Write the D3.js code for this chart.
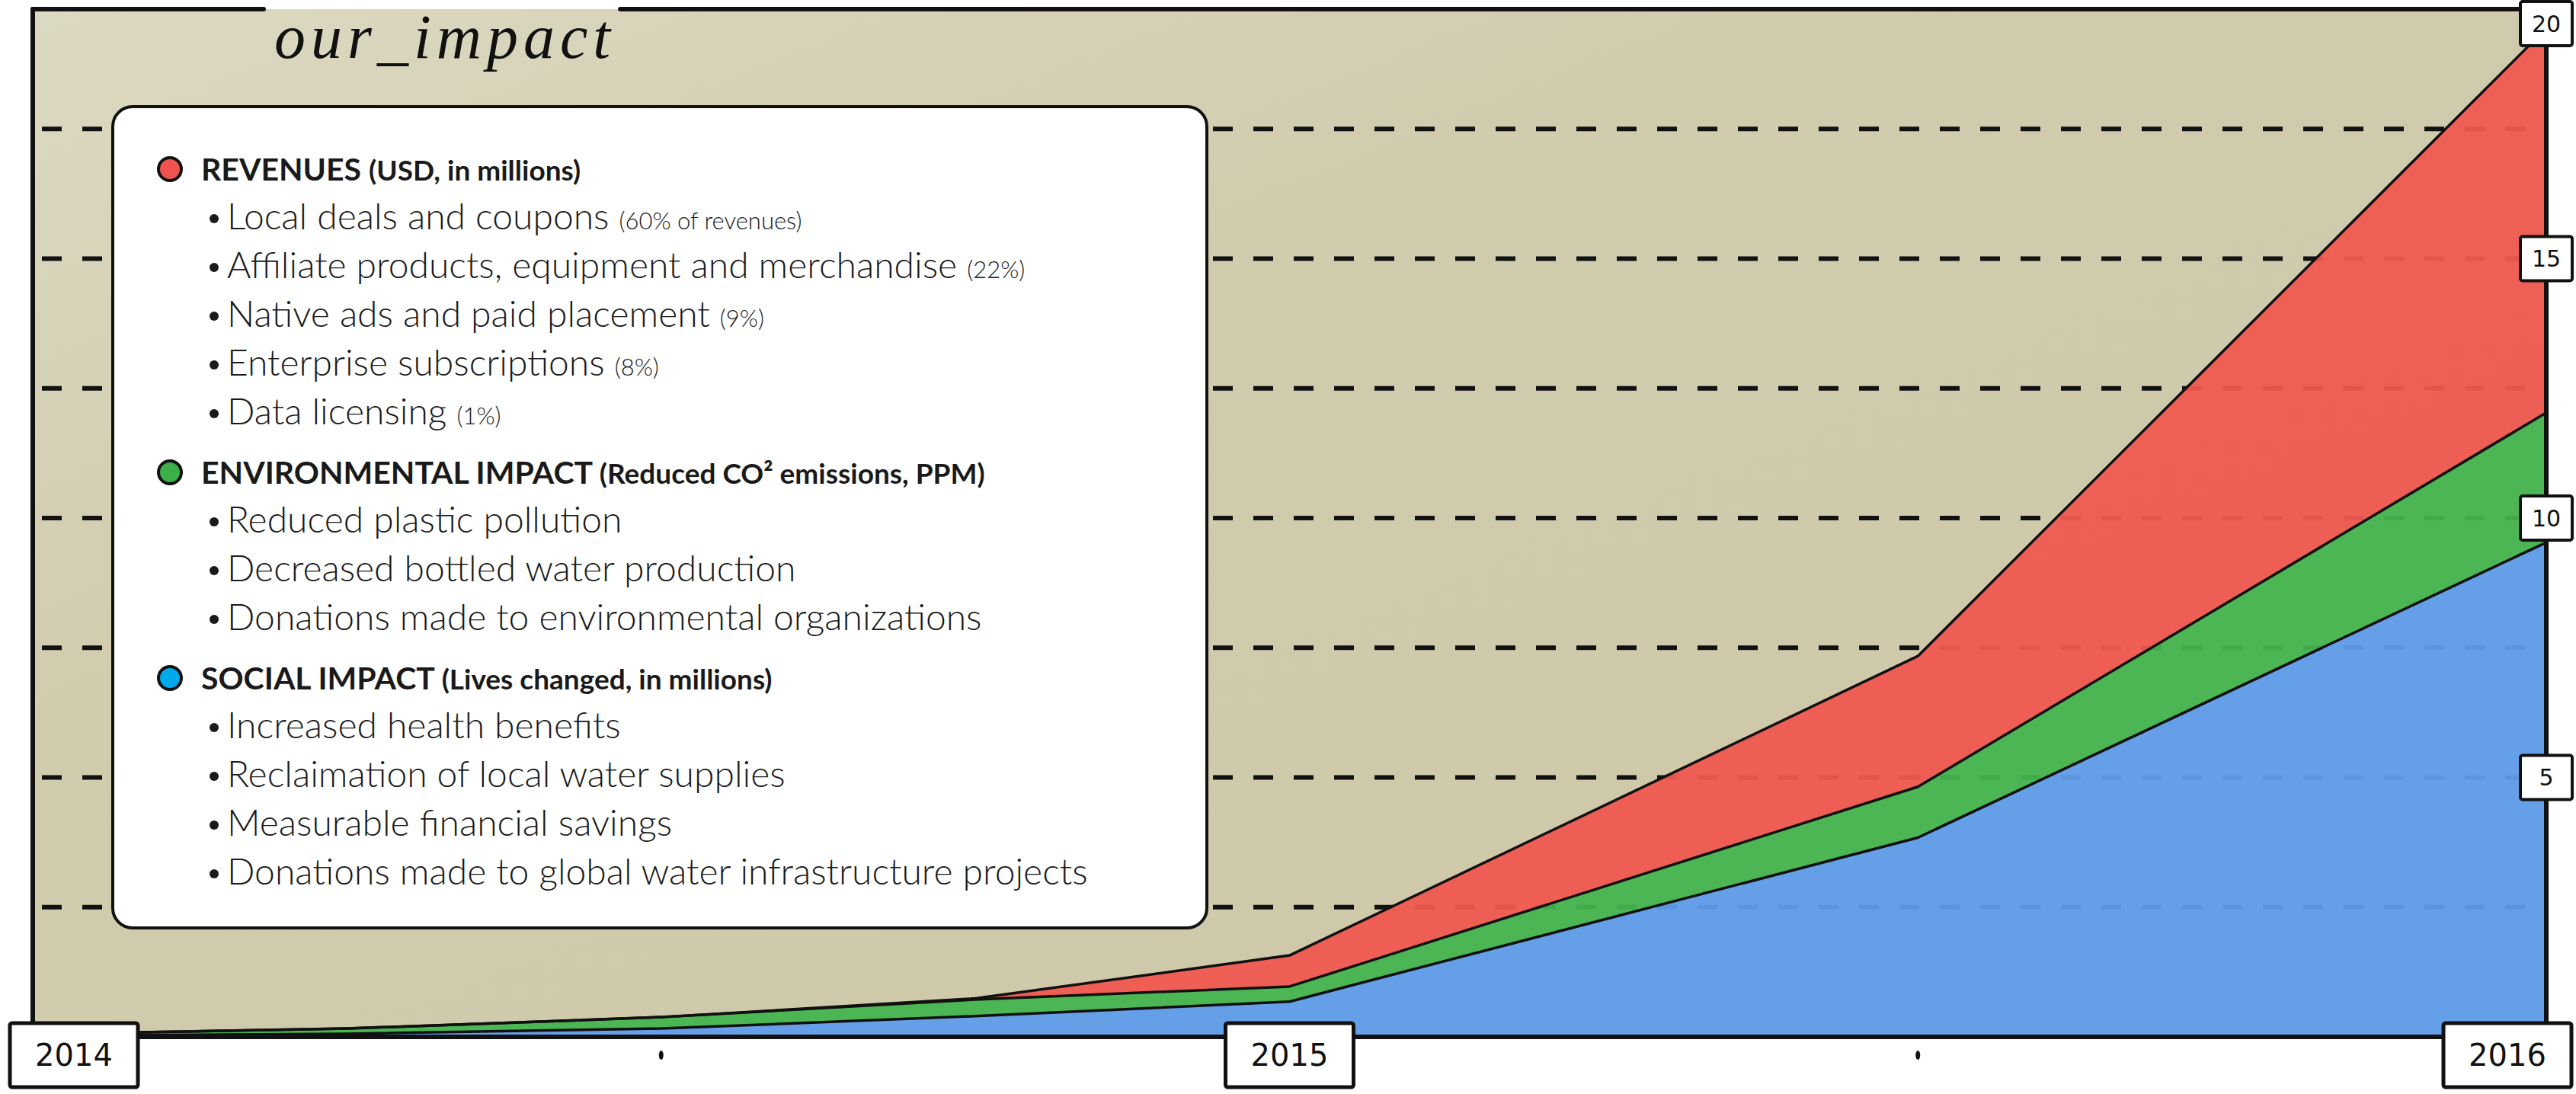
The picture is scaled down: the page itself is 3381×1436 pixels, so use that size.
<!DOCTYPE html>
<html>
<head>
<meta charset="utf-8">
<script src="https://cdn.jsdelivr.net/npm/d3@7"></script>
<style>
  html, body { margin: 0; padding: 0; background: #fff; }
  svg { display: block; }
</style>
</head>
<body>
<div id="chart"></div>
<script>

// chart data
var years = [2014, 2014.25, 2014.5, 2014.75, 2015, 2015.5, 2016];
var socialImpact = [0.02, 0.06, 0.16, 0.40, 0.68, 3.84, 9.53];
var environmentalImpact = [0.03, 0.10, 0.22, 0.32, 0.29, 0.98, 2.50];
var revenues = [0.00, 0.00, 0.00, 0.02, 0.60, 2.52, 7.41];

var seriesKeys = ['social', 'environmental', 'revenues'];
var yTickValues = [5, 10, 15, 20];
var gridValues = [2.5, 5, 7.5, 10, 12.5, 15, 17.5];
var xTickValues = [2014, 2015, 2016];
var xMinorTicks = [2014.5, 2015.5];
var chartTitle = 'our_impact';

var legendGroups = [
  {name: 'REVENUES', note: '(USD, in millions)', color: '#ef5350',
   items: [['Local deals and coupons', '(60% of revenues)'],
           ['Affiliate products, equipment and merchandise', '(22%)'],
           ['Native ads and paid placement', '(9%)'],
           ['Enterprise subscriptions', '(8%)'],
           ['Data licensing', '(1%)']]},
  {name: 'ENVIRONMENTAL IMPACT', note: '(Reduced CO\u00b2 emissions, PPM)', color: '#3cae4a',
   items: [['Reduced plastic pollution', ''],
           ['Decreased bottled water production', ''],
           ['Donations made to environmental organizations', '']]},
  {name: 'SOCIAL IMPACT', note: '(Lives changed, in millions)', color: '#00a8ec',
   items: [['Increased health benefits', ''],
           ['Reclaimation of local water supplies', ''],
           ['Measurable financial savings', ''],
           ['Donations made to global water infrastructure projects', '']]}
];

var areaColors = {social: '#5f9dea', environmental: '#45b44f', revenues: '#ef5850'};

var width = 3381, height = 1436;
var plotLeft = 43, plotRight = 3342, plotTop = 12, plotBottom = 1361;
var titleX = 360;

var rows = years.map(function(yr, i) {
  return {year: yr, social: socialImpact[i], environmental: environmentalImpact[i], revenues: revenues[i]};
});

var x = d3.scaleLinear().domain([2014, 2016]).range([plotLeft, plotRight]);
var y = d3.scaleLinear().domain([0, 20]).range([plotBottom, -1]);

var svg = d3.select('#chart').append('svg')
  .attr('width', width)
  .attr('height', height);

var defs = svg.append('defs');
var grad = defs.append('linearGradient').attr('id', 'paper')
  .attr('x1', '0').attr('y1', '0').attr('x2', '1').attr('y2', '1');
grad.append('stop').attr('offset', '0%').attr('stop-color', '#dcd9c2');
grad.append('stop').attr('offset', '35%').attr('stop-color', '#d1ccae');
grad.append('stop').attr('offset', '100%').attr('stop-color', '#cdc7a7');

defs.append('clipPath').attr('id', 'plotclip')
  .append('rect')
  .attr('x', plotLeft).attr('y', plotTop)
  .attr('width', plotRight - plotLeft).attr('height', plotBottom - plotTop);

// paper background
svg.append('rect')
  .attr('x', plotLeft).attr('y', plotTop)
  .attr('width', plotRight - plotLeft).attr('height', plotBottom - plotTop)
  .attr('fill', 'url(#paper)');

// dashed grid
svg.append('g').selectAll('line')
  .data(gridValues)
  .enter().append('line')
  .attr('x1', plotLeft + 12).attr('x2', plotRight)
  .attr('y1', function(d) { return y(d); })
  .attr('y2', function(d) { return y(d); })
  .attr('stroke', '#111')
  .attr('stroke-width', 6)
  .attr('stroke-dasharray', '26,27');

// stacked areas
var stacked = d3.stack().keys(seriesKeys)(rows);

var area = d3.area()
  .x(function(d) { return x(d.data.year); })
  .y0(function(d) { return y(d[0]); })
  .y1(function(d) { return y(d[1]); });

var topLine = d3.line()
  .x(function(d) { return x(d.data.year); })
  .y(function(d) { return y(d[1]); });

var plot = svg.append('g').attr('clip-path', 'url(#plotclip)');

plot.selectAll('.layer')
  .data(stacked)
  .enter().append('path')
  .attr('class', 'layer')
  .attr('d', area)
  .attr('fill', function(d) { return areaColors[d.key]; })
  .attr('fill-opacity', 0.95);

plot.selectAll('.edge')
  .data(stacked)
  .enter().append('path')
  .attr('class', 'edge')
  .attr('d', topLine)
  .attr('fill', 'none')
  .attr('stroke', '#111')
  .attr('stroke-width', 3.5)
  .attr('stroke-linejoin', 'round');

// title, sitting in a gap of the top frame line
var title = svg.append('text')
  .attr('x', titleX)
  .attr('y', 76)
  .attr('font-family', '"Liberation Serif", serif')
  .attr('font-style', 'italic')
  .attr('font-size', 82)
  .attr('letter-spacing', 7)
  .attr('fill', '#111')
  .text(chartTitle);
var titleEnd = titleX + title.node().getComputedTextLength();

// frame
var frame = svg.append('g')
  .attr('stroke', '#111')
  .attr('stroke-width', 6)
  .attr('stroke-linecap', 'round');
frame.append('line').attr('x1', plotLeft).attr('x2', plotLeft).attr('y1', plotTop).attr('y2', plotBottom);
frame.append('line').attr('x1', plotRight).attr('x2', plotRight).attr('y1', plotTop + 20).attr('y2', plotBottom);
frame.append('line').attr('x1', plotLeft).attr('x2', titleX - 14).attr('y1', plotTop).attr('y2', plotTop);
frame.append('line').attr('x1', titleEnd + 6).attr('x2', plotRight).attr('y1', plotTop).attr('y2', plotTop);
frame.append('line').attr('x1', plotLeft).attr('x2', plotRight).attr('y1', plotBottom).attr('y2', plotBottom);

// y axis on the right, labels in boxes
var yAxis = svg.append('g')
  .attr('transform', 'translate(' + plotRight + ',0)')
  .call(d3.axisRight(y).tickValues(yTickValues).tickSize(0).tickPadding(0));
yAxis.select('.domain').remove();
yAxis.selectAll('.tick')
  .attr('transform', function(d) { return 'translate(0,' + Math.max(31, y(d)) + ')'; });
yAxis.selectAll('.tick').insert('rect', 'text')
  .attr('x', -34).attr('y', -29)
  .attr('width', 68).attr('height', 58)
  .attr('rx', 3)
  .attr('fill', '#fff')
  .attr('stroke', '#111')
  .attr('stroke-width', 4);
yAxis.selectAll('.tick text')
  .attr('x', 0).attr('dy', '0.35em')
  .attr('text-anchor', 'middle')
  .attr('font-family', '"DejaVu Sans", sans-serif')
  .attr('font-size', 30)
  .attr('fill', '#111');

// x axis, labels in boxes kept inside the page
var xAxis = svg.append('g')
  .attr('transform', 'translate(0,' + (plotBottom + 24) + ')')
  .call(d3.axisBottom(x).tickValues(xTickValues).tickFormat(d3.format('d')).tickSize(0).tickPadding(0));
xAxis.select('.domain').remove();
xAxis.selectAll('.tick')
  .attr('transform', function(d) {
    var cx = Math.max(97, Math.min(3291, x(d)));
    return 'translate(' + cx + ',0)';
  });
xAxis.selectAll('.tick').insert('rect', 'text')
  .attr('x', -84).attr('y', -42)
  .attr('width', 168).attr('height', 84)
  .attr('rx', 3)
  .attr('fill', '#fff')
  .attr('stroke', '#111')
  .attr('stroke-width', 5);
xAxis.selectAll('.tick text')
  .attr('y', 0).attr('dy', '0.35em')
  .attr('font-family', '"DejaVu Sans", sans-serif')
  .attr('font-size', 40)
  .attr('fill', '#111');

svg.append('g').selectAll('ellipse')
  .data(xMinorTicks)
  .enter().append('ellipse')
  .attr('cx', function(d) { return x(d); })
  .attr('cy', plotBottom + 24)
  .attr('rx', 3).attr('ry', 6)
  .attr('fill', '#111');

// legend box
var legend = svg.append('g');
legend.append('rect')
  .attr('x', 148).attr('y', 140)
  .attr('width', 1436).attr('height', 1078)
  .attr('rx', 26)
  .attr('fill', '#fff')
  .attr('stroke', '#111')
  .attr('stroke-width', 4);

var rowY = 222;
legendGroups.forEach(function(g, gi) {
  if (gi > 0) rowY += 14;
  legend.append('circle')
    .attr('cx', 223).attr('cy', rowY)
    .attr('r', 15)
    .attr('fill', g.color)
    .attr('stroke', '#111')
    .attr('stroke-width', 4);
  var head = legend.append('text')
    .attr('x', 264).attr('y', rowY + 15)
    .attr('font-family', 'Lato, sans-serif')
    .attr('fill', '#1a1a1a');
  head.append('tspan').attr('font-weight', 700).attr('font-size', 41).text(g.name + ' ');
  head.append('tspan').attr('font-weight', 700).attr('font-size', 37).text(g.note);
  rowY += 64;
  g.items.forEach(function(it) {
    legend.append('circle')
      .attr('cx', 281).attr('cy', rowY + 1)
      .attr('r', 6)
      .attr('fill', '#1a1a1a');
    var t = legend.append('text')
      .attr('x', 298).attr('y', rowY + 15)
      .attr('font-family', 'Lato, sans-serif')
      .attr('fill', '#1a1a1a');
    t.append('tspan').attr('font-size', 48).attr('font-weight', 300).text(it[0] + ' ');
    if (it[1]) t.append('tspan').attr('font-size', 31).attr('font-weight', 300).text(it[1]);
    rowY += 64;
  });
});

</script>
</body>
</html>
